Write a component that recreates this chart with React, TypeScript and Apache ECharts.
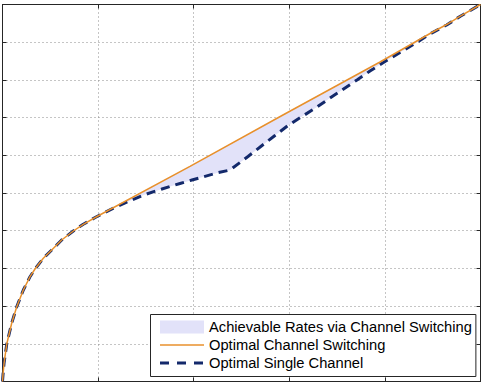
import React, { useEffect, useRef } from "react";
import * as echarts from "echarts";

// Optimal single-channel rate curve (two concave pieces joined at a kink)
const singleX = [
  0.0, 0.005, 0.016, 0.044, 0.096, 0.149, 0.218, 0.288, 0.34, 0.427, 0.515, 0.619, 0.741, 0.845, 0.988,
  1.156, 1.334, 1.491, 1.668, 1.857, 1.982, 2.254, 2.38,
  2.568, 2.715, 2.85, 2.986, 3.133, 3.29, 3.457, 3.708, 3.844, 4.001, 4.158, 4.315, 4.472, 4.646, 4.785, 5.0,
];
const singleY = [
  0.0, 0.172, 0.483, 0.987, 1.544, 1.984, 2.427, 2.78, 2.984, 3.268, 3.488, 3.753, 3.992, 4.17, 4.377,
  4.594, 4.796, 4.96, 5.106, 5.252, 5.345, 5.538, 5.61,
  5.968, 6.26, 6.525, 6.79, 7.029, 7.281, 7.573, 7.997, 8.236, 8.488, 8.727, 8.966, 9.218, 9.456, 9.682, 10.0,
];

// Optimal channel switching (upper envelope)
const switchX = [
  0.0, 0.005, 0.016, 0.044, 0.096, 0.149, 0.218, 0.288, 0.34, 0.427, 0.515, 0.619, 0.741, 0.845, 0.988,
  1.961, 2.924, 3.949, 4.472, 4.646, 4.785, 5.0,
];
const switchY = [
  0.0, 0.172, 0.483, 0.987, 1.544, 1.984, 2.427, 2.78, 2.984, 3.268, 3.488, 3.753, 3.992, 4.17, 4.377,
  5.708, 7.056, 8.475, 9.231, 9.469, 9.687, 10.0,
];

const legendNames = [
  "Achievable Rates via Channel Switching",
  "Optimal Channel Switching",
  "Optimal Single Channel",
];

const xMin = 0;
const xMax = 5;
const xStep = 1;
const yMin = 0;
const yMax = 10;
const yStep = 1;

const fillColor = "#e2e2f9";
const switchColor = "#e8902c";
const singleColor = "#13296b";
const frameColor = "#262626";

const zip = (xs: number[], ys: number[]) => xs.map((x, i) => [x, ys[i]]);

export default function App() {
  const ref = useRef<HTMLDivElement>(null);

  useEffect(() => {
    if (!ref.current) return;
    const chart = echarts.init(ref.current, undefined, { renderer: "svg" });
    const single = zip(singleX, singleY);
    const switching = zip(switchX, switchY);

    const frame = {
      axisLine: { show: true, onZero: false, lineStyle: { color: frameColor, width: 1 } },
      axisTick: { show: true, inside: true, length: 4, lineStyle: { color: frameColor, width: 1 } },
      axisLabel: { show: false },
    };
    const grid = { show: true, lineStyle: { color: "#8a8a8a", width: 1, type: [1, 3] } };
    const hiddenSymbol = { color: "transparent", borderWidth: 0, opacity: 0 };

    chart.setOption({
      animation: false,
      backgroundColor: "#ffffff",
      grid: { left: 2.5, right: 2.5, top: 4.5, bottom: 1.5 },
      xAxis: [
        { type: "value", min: xMin, max: xMax, interval: xStep, position: "bottom", ...frame, splitLine: grid },
        { type: "value", min: xMin, max: xMax, interval: xStep, position: "top", ...frame, splitLine: { show: false } },
      ],
      yAxis: [
        { type: "value", min: yMin, max: yMax, interval: yStep, position: "left", ...frame, splitLine: grid },
        { type: "value", min: yMin, max: yMax, interval: yStep, position: "right", ...frame, splitLine: { show: false } },
      ],
      legend: {
        orient: "vertical",
        left: 150.5,
        top: 314.5,
        itemWidth: 44,
        itemHeight: 13,
        itemGap: 1,
        padding: [4, 4, 5, 8],
        borderColor: frameColor,
        borderWidth: 1,
        borderRadius: 0,
        backgroundColor: "#ffffff",
        textStyle: {
          fontFamily: "Liberation Sans, Arial, sans-serif",
          fontSize: 14.7,
          lineHeight: 17,
          color: "#000000",
        },
        data: [
          { name: legendNames[0], icon: "rect" },
          { name: legendNames[1], itemStyle: hiddenSymbol, lineStyle: { width: 1.5 } },
          { name: legendNames[2], itemStyle: hiddenSymbol, lineStyle: { width: 3, type: [9, 8] } },
        ],
      },
      series: [
        {
          name: legendNames[0],
          type: "custom",
          z: 1,
          silent: true,
          itemStyle: { color: fillColor },
          data: [[0, 0]],
          renderItem: (_params: any, api: any) => {
            const upper = switching.map((p) => api.coord(p));
            const lower = single.slice().reverse().map((p) => api.coord(p));
            return {
              type: "polygon",
              shape: { points: upper.concat(lower) },
              style: { fill: fillColor },
            };
          },
        },
        {
          name: legendNames[1],
          type: "line",
          z: 4,
          symbol: "none",
          data: switching,
          lineStyle: { color: switchColor, width: 1.5 },
          itemStyle: { color: switchColor },
        },
        {
          name: legendNames[2],
          type: "line",
          z: 3,
          symbol: "none",
          data: single,
          lineStyle: { color: singleColor, width: 3, type: [9, 6] },
          itemStyle: { color: singleColor },
        },
      ],
    });
    return () => chart.dispose();
  }, []);

  return (
    <div
      ref={ref}
      style={{ position: "absolute", left: 0, top: 0, width: 483, height: 383 }}
    />
  );
}
